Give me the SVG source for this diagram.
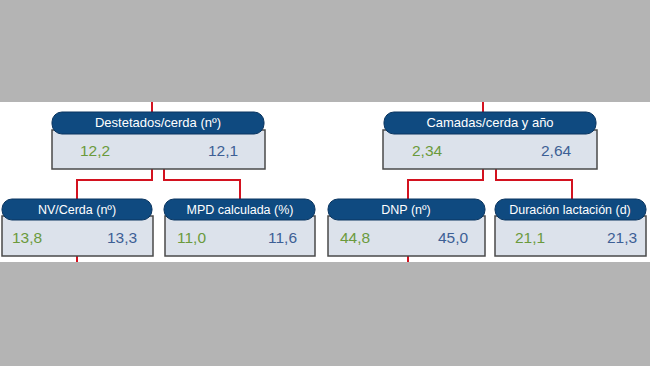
<svg xmlns="http://www.w3.org/2000/svg" width="650" height="366" viewBox="0 0 650 366">
<style>
.bg{fill:#b4b4b4}
.body{fill:#dce2eb;stroke:#4a4a4a;stroke-width:1.5}
.hdr{fill:#0f4a80;stroke:#0a3560;stroke-width:1}
.ht{font-family:"Liberation Sans",Arial,sans-serif;font-size:13px;fill:#ffffff;text-anchor:middle}
.ht2{font-family:"Liberation Sans",Arial,sans-serif;font-size:12.5px;fill:#ffffff;text-anchor:middle}
.g{font-family:"Liberation Sans",Arial,sans-serif;font-size:15.5px;fill:#6b9a3c}
.b{font-family:"Liberation Sans",Arial,sans-serif;font-size:15.5px;fill:#3d5f95}
.c{fill:none;stroke:#d3121f;stroke-width:2}
</style>
<rect x="0" y="0" width="650" height="366" fill="#ffffff"/>
<rect class="bg" x="0" y="0" width="650" height="102"/>
<rect class="bg" x="0" y="262" width="650" height="104"/>
<g id="connectors">
<path class="c" d="M152 102V112"/>
<path class="c" d="M152 169V180H77V199"/>
<path class="c" d="M164 169V180H240V199"/>
<path class="c" d="M77 256V262"/>
<path class="c" d="M483 102V112"/>
<path class="c" d="M483 169V180H408V199"/>
<path class="c" d="M496 169V180H572V199"/>
<path class="c" d="M408 256V262"/>
</g>
<g id="destetados">
<rect class="body" x="52" y="130" width="213" height="39"/>
<rect class="hdr" x="52" y="112" width="212" height="22" rx="10"/>
<text class="ht" x="158" y="127">Destetados/cerda (nº)</text>
<text class="g" x="80" y="156">12,2</text>
<text class="b" x="208" y="156">12,1</text>
</g>
<g id="camadas">
<rect class="body" x="383" y="130" width="214" height="39"/>
<rect class="hdr" x="384" y="112" width="212" height="22" rx="10"/>
<text class="ht" x="490" y="127">Camadas/cerda y año</text>
<text class="g" x="412" y="156">2,34</text>
<text class="b" x="541" y="156">2,64</text>
</g>
<g id="nv">
<rect class="body" x="2" y="216" width="151" height="40"/>
<rect class="hdr" x="2" y="199" width="150" height="21" rx="10"/>
<text class="ht2" x="77" y="214">NV/Cerda (nº)</text>
<text class="g" x="12" y="243">13,8</text>
<text class="b" x="107" y="243">13,3</text>
</g>
<g id="mpd">
<rect class="body" x="165" y="216" width="150" height="40"/>
<rect class="hdr" x="164" y="199" width="151" height="21" rx="10"/>
<text class="ht2" x="240" y="214">MPD calculada (%)</text>
<text class="g" x="177" y="243">11,0</text>
<text class="b" x="268" y="243">11,6</text>
</g>
<g id="dnp">
<rect class="body" x="328" y="216" width="157" height="40"/>
<rect class="hdr" x="328" y="199" width="157" height="21" rx="10"/>
<text class="ht2" x="406" y="214">DNP (nº)</text>
<text class="g" x="340" y="243">44,8</text>
<text class="b" x="438" y="243">45,0</text>
</g>
<g id="duracion">
<rect class="body" x="495" y="216" width="151" height="40"/>
<rect class="hdr" x="495" y="199" width="151" height="21" rx="10"/>
<text class="ht2" x="570" y="214">Duración lactación (d)</text>
<text class="g" x="515" y="243">21,1</text>
<text class="b" x="607" y="243">21,3</text>
</g>
</svg>
